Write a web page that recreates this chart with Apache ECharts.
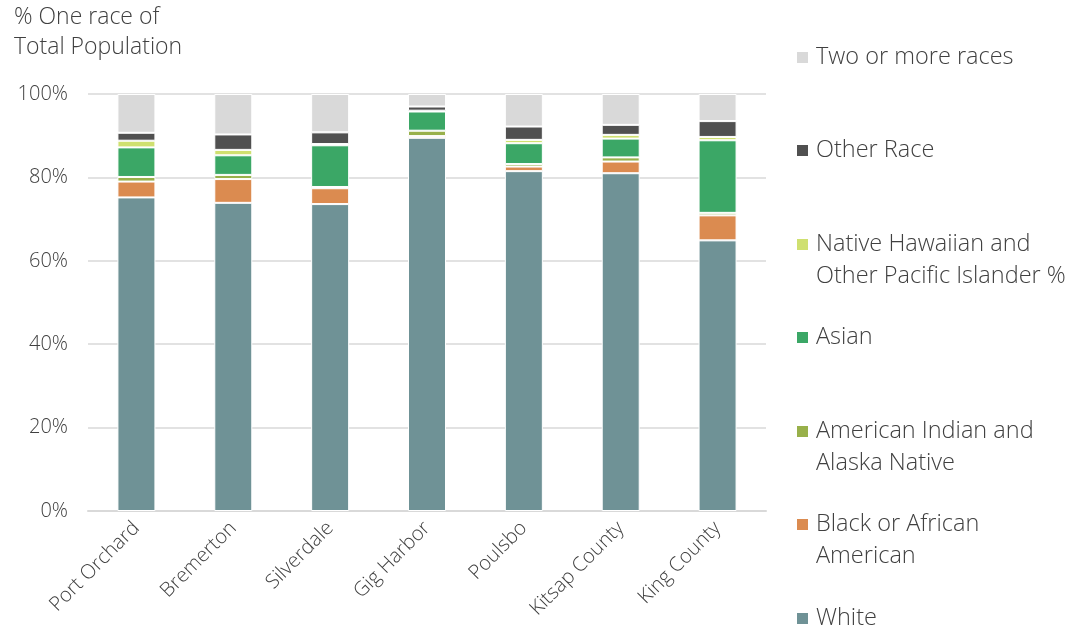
<!DOCTYPE html>
<html>
<head>
<meta charset="utf-8">
<script src="https://cdn.jsdelivr.net/npm/echarts@6/dist/echarts.min.js"></script>
<style>
  html, body { margin: 0; padding: 0; background: #fff; }
  #chart { width: 1087px; height: 629px; }
</style>
</head>
<body>
<div id="chart"></div>
<script>
// Share of population by single race, per place (percent of total population)
const categories = ['Port Orchard', 'Bremerton', 'Silverdale', 'Gig Harbor', 'Poulsbo', 'Kitsap County', 'King County'];
const white    = [75.2, 73.9, 73.6, 89.5, 81.5, 81.0, 64.9];
const black    = [3.8, 5.7, 3.8, 0.4, 1.1, 2.8, 6.0];
const aian     = [1.1, 1.0, 0.3, 1.3, 0.6, 1.0, 0.6];
const asian    = [7.1, 4.7, 10.0, 4.6, 5.0, 4.5, 17.4];
const nhpi     = [1.6, 1.3, 0.3, 0.2, 0.8, 0.9, 0.8];
const other    = [1.9, 3.7, 2.8, 1.0, 3.2, 2.4, 3.8];
const twoOrMore = [9.3, 9.7, 9.2, 3.0, 7.8, 7.4, 6.5];
const yTicks = [0, 20, 40, 60, 80, 100];

const FONT = "'Open Sans', 'Noto Sans', sans-serif";
const TEXT = '#404040';

// Stack order from bottom to top
const stack = [
  { name: 'White', data: white, color: '#6f9296' },
  { name: 'Black or African\nAmerican', data: black, color: '#db8b50' },
  { name: 'American Indian and\nAlaska Native', data: aian, color: '#98b04a' },
  { name: 'Asian', data: asian, color: '#3ba766' },
  { name: 'Native Hawaiian and\nOther Pacific Islander %', data: nhpi, color: '#cfe070' },
  { name: 'Other Race', data: other, color: '#505050' },
  { name: 'Two or more races', data: twoOrMore, color: '#d9d9d9' }
];

// Legend, listed top to bottom (reverse of stack order)
const legendRows = [57, 150, 244, 337, 431, 524, 618];
const legendGraphics = [];
stack.slice().reverse().forEach((s, i) => {
  const y = legendRows[i];
  legendGraphics.push({
    type: 'rect',
    left: 797, top: y - 5,
    shape: { width: 11, height: 11 },
    style: { fill: s.color }
  });
  legendGraphics.push({
    type: 'text',
    left: 816, top: y - 16,
    style: {
      text: s.name,
      font: '300 23.5px ' + FONT,
      fill: TEXT,
      lineHeight: 32
    }
  });
});

const chart = echarts.init(document.getElementById('chart'), null, { renderer: 'canvas' });
chart.setOption({
  animation: false,
  backgroundColor: '#fff',
  grid: { left: 88, right: 321, top: 94, bottom: 118 },
  xAxis: {
    type: 'category',
    data: categories,
    axisLine: { show: true, lineStyle: { color: '#d9d9d9', width: 2 } },
    axisTick: { show: false },
    axisLabel: {
      rotate: 45,
      interval: 0,
      margin: 14,
      color: TEXT,
      fontFamily: FONT,
      fontWeight: 300,
      fontSize: 20
    }
  },
  yAxis: {
    type: 'value',
    min: 0, max: 100, interval: 20,
    axisLine: { show: false },
    axisTick: { show: false },
    splitLine: { lineStyle: { color: '#d9d9d9', width: 1.5 } },
    axisLabel: {
      margin: 20,
      color: TEXT,
      fontFamily: FONT,
      fontWeight: 300,
      fontSize: 20,
      formatter: v => (yTicks.includes(v) ? v + '%' : '')
    }
  },
  series: stack.map(s => ({
    name: s.name,
    type: 'bar',
    stack: 'race',
    barWidth: 38,
    data: s.data,
    itemStyle: { color: s.color, borderColor: '#fff', borderWidth: 1 }
  })),
  graphic: [
    {
      type: 'text',
      left: 14, top: 2,
      style: {
        text: '% One race of\nTotal Population',
        font: '300 23px ' + FONT,
        fill: TEXT,
        lineHeight: 30
      }
    }
  ].concat(legendGraphics)
});
</script>
</body>
</html>
